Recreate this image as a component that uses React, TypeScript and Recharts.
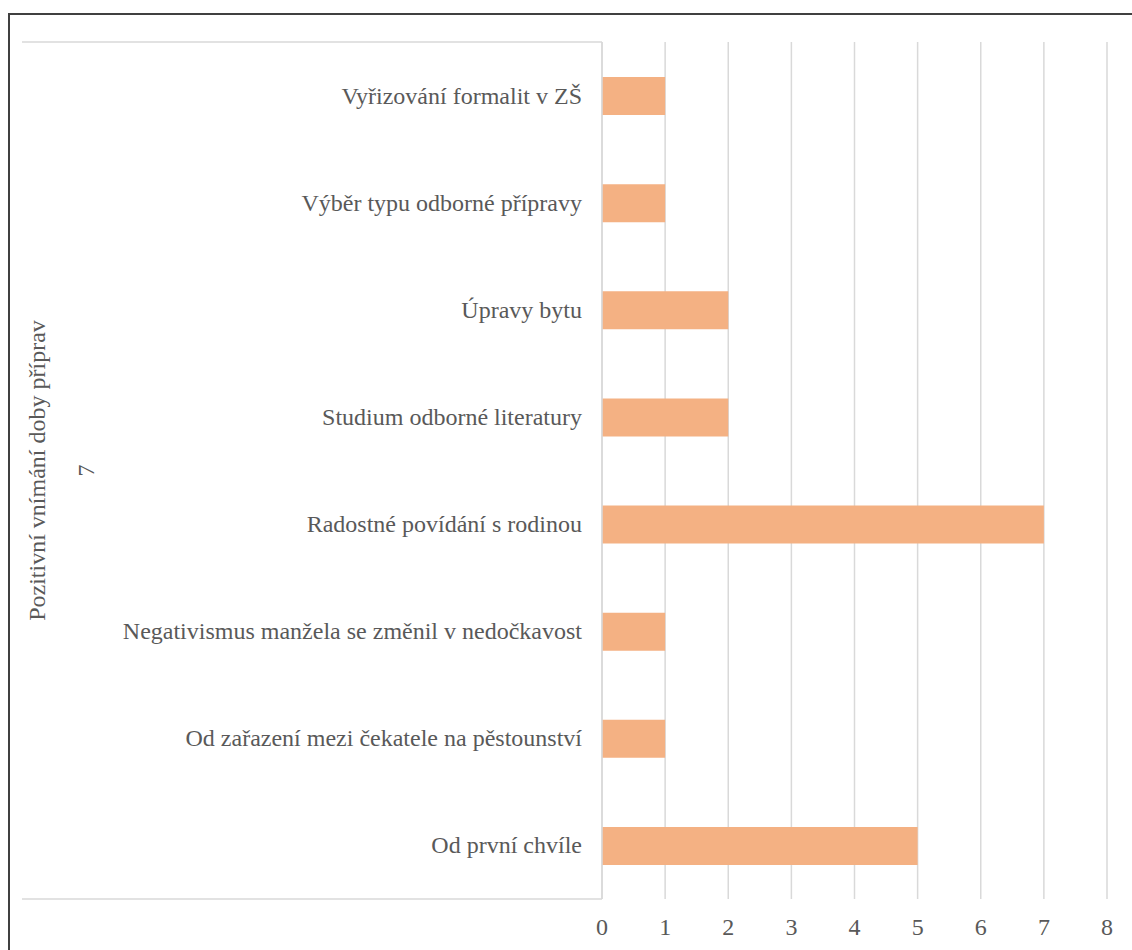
import React from 'react'
import { Bar, BarChart, CartesianGrid, XAxis, YAxis, usePlotArea } from 'recharts'

const categories = [
  'Vyřizování formalit v ZŠ',
  'Výběr typu odborné přípravy',
  'Úpravy bytu',
  'Studium odborné literatury',
  'Radostné povídání s rodinou',
  'Negativismus manžela se změnil v nedočkavost',
  'Od zařazení mezi čekatele na pěstounství',
  'Od první chvíle',
]
const counts = [1, 1, 2, 2, 7, 1, 1, 5]
const xTicks = [0, 1, 2, 3, 4, 5, 6, 7, 8]
const groupLabel = 'Pozitivní vnímání doby příprav'
const groupCount = '7'

const data = categories.map((name, i) => ({ name, value: counts[i] }))

const FONT = '"Liberation Serif", "Times New Roman", serif'
const TEXT = '#595959'
const GRID = '#d9d9d9'
const textStyle = { fontFamily: FONT, fontSize: 24, fill: TEXT }

function CategoryTick({ x, y, payload }: any) {
  return (
    <text x={x - 12} y={y} dy={8} textAnchor="end" style={textStyle}>
      {payload.value}
    </text>
  )
}

function ValueTick({ x, y, payload }: any) {
  return (
    <text x={x} y={y} dy={28} textAnchor="middle" style={textStyle}>
      {payload.value}
    </text>
  )
}

function GroupAxis() {
  const area = usePlotArea()
  if (!area) return null
  const left = 22
  const top = area.y
  const bottom = area.y + area.height
  const mid = area.y + area.height / 2
  return (
    <g>
      <line x1={left} y1={top} x2={area.x} y2={top} stroke={GRID} strokeWidth={1.5} />
      <line x1={left} y1={bottom} x2={area.x} y2={bottom} stroke={GRID} strokeWidth={1.5} />
      <text transform={`translate(45, ${mid}) rotate(-90)`} textAnchor="middle" style={textStyle}>
        {groupLabel}
      </text>
      <text transform={`translate(94, ${mid}) rotate(-90)`} textAnchor="middle" style={textStyle}>
        {groupCount}
      </text>
    </g>
  )
}

export default function App() {
  return (
    <div style={{ position: 'fixed', left: 0, top: 0, width: 1132, height: 950, overflow: 'hidden', background: '#fff' }}>
      <div
        style={{
          position: 'absolute',
          left: 8,
          top: 13,
          width: 1300,
          height: 1100,
          borderLeft: '2px solid #404040',
          borderTop: '2px solid #404040',
        }}
      />
      <div style={{ position: 'absolute', left: 0, top: 0 }}>
        <BarChart
          width={1132}
          height={950}
          layout="vertical"
          data={data}
          margin={{ top: 42, right: 25, bottom: 11, left: 0 }}
          barCategoryGap={0}
        >
          <CartesianGrid horizontal={false} stroke={GRID} strokeWidth={1.5} />
          <XAxis
            type="number"
            domain={[0, 8]}
            ticks={xTicks}
            interval={0}
            axisLine={false}
            tickLine={false}
            height={40}
            tick={<ValueTick />}
          />
          <YAxis
            type="category"
            dataKey="name"
            width={602}
            interval={0}
            axisLine={{ stroke: GRID, strokeWidth: 1.5 }}
            tickLine={false}
            tick={<CategoryTick />}
          />
          <Bar dataKey="value" fill="#F4B183" barSize={38} isAnimationActive={false} />
          <GroupAxis />
        </BarChart>
      </div>
    </div>
  )
}
